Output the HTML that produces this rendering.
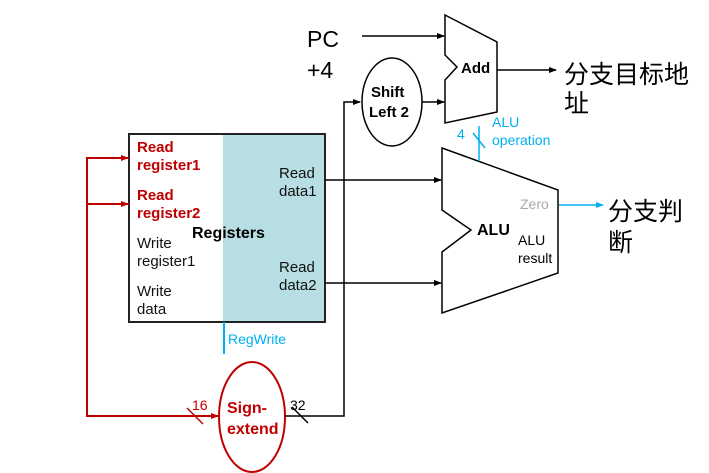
<!DOCTYPE html>
<html><head><style>body{margin:0;background:#fff}svg{display:block}text{font-family:"Liberation Sans","Noto Sans CJK SC",sans-serif}</style></head><body>
<svg width="709" height="473" viewBox="0 0 709 473">
<defs>
<marker id="a" markerWidth="8" markerHeight="8" refX="7" refY="4" orient="auto" markerUnits="userSpaceOnUse"><path d="M0,1 L8,4 L0,7z" fill="#000"/></marker>
<marker id="r" markerWidth="8" markerHeight="8" refX="7" refY="4" orient="auto" markerUnits="userSpaceOnUse"><path d="M0,1 L8,4 L0,7z" fill="#c00000"/></marker>
<marker id="b" markerWidth="8" markerHeight="8" refX="7" refY="4" orient="auto" markerUnits="userSpaceOnUse"><path d="M0,1 L8,4 L0,7z" fill="#00b0f0"/></marker>
</defs>
<rect x="223" y="134" width="102" height="188" fill="#b7dee3"/>
<rect x="129" y="134" width="196" height="188" fill="none" stroke="#222" stroke-width="2"/>
<g font-size="15" font-weight="bold" fill="#c00000">
<text x="137" y="152">Read</text><text x="137" y="170">register1</text>
<text x="137" y="200">Read</text><text x="137" y="218">register2</text></g>
<g font-size="15" fill="#111">
<text x="137" y="248">Write</text><text x="137" y="266">register1</text>
<text x="137" y="296">Write</text><text x="137" y="314">data</text>
<text x="279" y="178">Read</text><text x="279" y="196">data1</text>
<text x="279" y="272">Read</text><text x="279" y="290">data2</text></g>
<text x="192" y="238" font-size="16" font-weight="bold">Registers</text>
<line x1="224" y1="322" x2="224" y2="354" stroke="#00b0f0" stroke-width="2"/>
<text x="228" y="344" font-size="14" fill="#00b0f0">RegWrite</text>
<path d="M129,158 H87 V416 H218 M87,204 H129" fill="none" stroke="#c00000" stroke-width="2"/>
<line x1="88" y1="158" x2="128" y2="158" stroke="#c00000" stroke-width="2" marker-end="url(#r)"/>
<line x1="88" y1="204" x2="128" y2="204" stroke="#c00000" stroke-width="2" marker-end="url(#r)"/>
<line x1="180" y1="416" x2="218" y2="416" stroke="#c00000" stroke-width="2" marker-end="url(#r)"/>
<line x1="187" y1="408" x2="203" y2="424" stroke="#c00000" stroke-width="1.5"/>
<text x="192" y="410" font-size="14" fill="#c00000">16</text>
<ellipse cx="252" cy="417" rx="33" ry="55" fill="#fff" stroke="#c00000" stroke-width="2"/>
<text x="227" y="413" font-size="16" font-weight="bold" fill="#c00000">Sign-</text>
<text x="227" y="434" font-size="16" font-weight="bold" fill="#c00000">extend</text>
<path d="M285,416 H344 V102 H360" fill="none" stroke="#000" stroke-width="1.5" marker-end="url(#a)"/>
<line x1="292" y1="407" x2="308" y2="423" stroke="#000" stroke-width="1.5"/>
<text x="290" y="410" font-size="14">32</text>
<ellipse cx="392" cy="102" rx="30" ry="44" fill="#fff" stroke="#000" stroke-width="1.5"/>
<text x="371" y="97" font-size="15" font-weight="bold">Shift</text>
<text x="369" y="117" font-size="15" font-weight="bold">Left 2</text>
<line x1="422" y1="102" x2="444" y2="102" stroke="#000" stroke-width="1.5" marker-end="url(#a)"/>
<line x1="362" y1="36" x2="444" y2="36" stroke="#000" stroke-width="1.5" marker-end="url(#a)"/>
<text x="307" y="47" font-size="23">PC</text><text x="307" y="78" font-size="23">+4</text>
<path d="M445,15 L497,42 L497,112 L445,123 L445,80 L457,67 L445,55 Z" fill="#fff" stroke="#000" stroke-width="1.5"/>
<text x="461" y="73" font-size="15" font-weight="bold">Add</text>
<line x1="497" y1="70" x2="556" y2="70" stroke="#000" stroke-width="1.5" marker-end="url(#a)"/>
<text x="564" y="83" font-size="25">分支目标地</text><text x="564" y="112" font-size="25">址</text>
<line x1="325" y1="180" x2="441" y2="180" stroke="#000" stroke-width="1.5" marker-end="url(#a)"/>
<line x1="325" y1="283" x2="441" y2="283" stroke="#000" stroke-width="1.5" marker-end="url(#a)"/>
<path d="M442,148 L558,190 L558,273 L442,313 L442,252 L471,230 L442,210 Z" fill="#fff" stroke="#000" stroke-width="1.5"/>
<text x="477" y="235" font-size="16" font-weight="bold">ALU</text>
<text x="518" y="245" font-size="14">ALU</text><text x="518" y="263" font-size="14">result</text>
<text x="520" y="209" font-size="14" fill="#aaa">Zero</text>
<line x1="559" y1="205" x2="603" y2="205" stroke="#00b0f0" stroke-width="1.5" marker-end="url(#b)"/>
<text x="608" y="220" font-size="25">分支判</text><text x="608" y="251" font-size="25">断</text>
<line x1="479" y1="126" x2="479" y2="161" stroke="#00b0f0" stroke-width="1.5"/>
<line x1="473" y1="133" x2="485" y2="148" stroke="#00b0f0" stroke-width="1.5"/>
<text x="457" y="139" font-size="14" fill="#00b0f0">4</text>
<text x="492" y="127" font-size="14" fill="#00b0f0">ALU</text><text x="492" y="145" font-size="14" fill="#00b0f0">operation</text>
</svg>
</body></html>
